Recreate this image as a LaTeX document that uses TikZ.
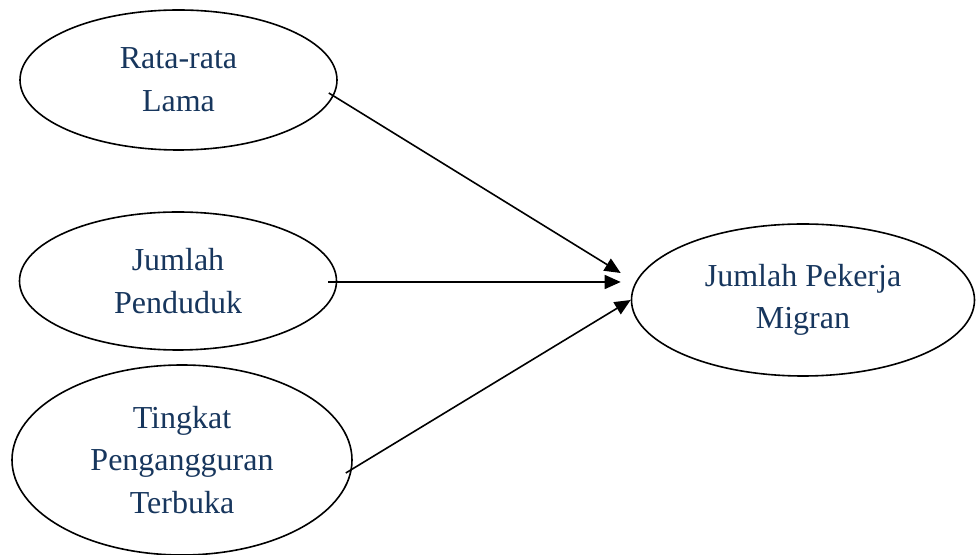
\documentclass[tikz,border=0pt]{standalone}
\usepackage{fontspec}
\setmainfont{Liberation Serif}
\usetikzlibrary{shapes.geometric, positioning, arrows.meta}
\definecolor{labelBlue}{HTML}{17365D}
\tikzstyle{varNode}=[ellipse, draw=black, line width=1.2pt, inner sep=0pt,
  align=center, text=labelBlue, font=\fontsize{24}{32}\selectfont]
\tikzstyle{arrow}=[-{Triangle[length=12pt, width=10.5pt]}, line width=1.2pt, draw=black]

\begin{document}
\begin{tikzpicture}[x=0.75pt, y=-0.75pt]
      \useasboundingbox (0,0) rectangle (976,555);

      \node[varNode, minimum width=237.75pt, minimum height=105pt] (rata) at (178.5,80) {Rata-rata\\Lama};
      \node[varNode, minimum width=237.75pt, minimum height=103.5pt] (penduduk) at (178,281) {Jumlah\\Penduduk};
      \node[varNode, minimum width=255pt, minimum height=142.5pt] (tpt) at (182,460) {Tingkat\\Pengangguran\\Terbuka};
      \node[varNode, minimum width=257.25pt, minimum height=114pt] (migran) at (803,300) {Jumlah Pekerja\\Migran};

      \draw[arrow] ([shift={(-9,13)}]rata.east) -- ([shift={(-10,-27)}]migran.west);
      \draw[arrow] ([shift={(-9,1)}]penduduk.east) -- ([shift={(-10,-18)}]migran.west);
      \draw[arrow] ([shift={(-7,13)}]tpt.east) -- (migran.west);
    \end{tikzpicture}
\end{document}
